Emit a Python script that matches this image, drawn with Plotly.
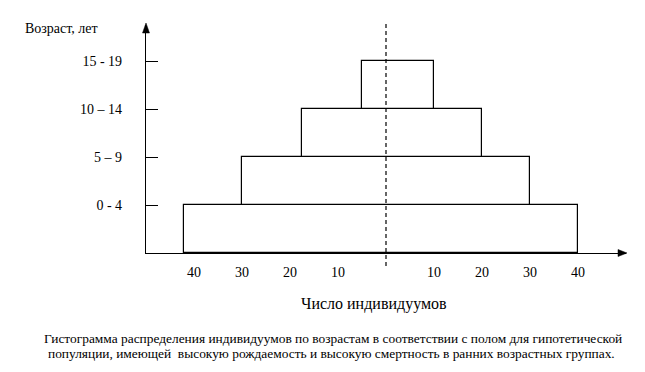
import plotly.graph_objects as go

# Data
age_groups = ["0 - 4", "5 – 9", "10 – 14", "15 - 19"]
left_counts = [42, 30, 17.5, 5]     # left half of the pyramid
right_counts = [40, 30, 20, 10]     # right half of the pyramid
x_tick_values = [-40, -30, -20, -10, 10, 20, 30, 40]
x_tick_labels = ["40", "30", "20", "10", "10", "20", "30", "40"]
caption_lines = [
    "Гистограмма распределения индивидуумов по возрастам в соответствии с полом для гипотетической",
    "популяции, имеющей  высокую рождаемость и высокую смертность в ранних возрастных группах.",
]

FONT = "Liberation Serif"
OFF = 8  # page body margin
W, H = 645 - OFF, 372 - OFF
L, R, T, B = 146 - OFF, 19, 25 - OFF, 119
plot_w = W - L - R
plot_h = H - T - B


def px_x(px):
    return (px - OFF - L) / plot_w


def px_y(py):
    return (H - B - (py - OFF)) / plot_h


y_mid = [i + 0.5 for i in range(len(age_groups))]
bases = [-v for v in left_counts]
lengths = [a + b for a, b in zip(left_counts, right_counts)]

fig = go.Figure()
fig.add_trace(go.Bar(
    orientation="h",
    y=y_mid,
    x=lengths,
    base=bases,
    width=1,
    marker=dict(color="white", line=dict(color="black", width=1.2)),
    showlegend=False,
    hoverinfo="skip",
))

fig.update_layout(
    width=W, height=H,
    margin=dict(l=L, r=R, t=T, b=B, pad=0),
    paper_bgcolor="white", plot_bgcolor="white",
    font=dict(family=FONT, size=14, color="black"),
    bargap=0,
    xaxis=dict(
        range=[-50, 50],
        tickvals=x_tick_values, ticktext=x_tick_labels,
        ticks="", showgrid=False, zeroline=False,
        showline=True, linecolor="black", linewidth=1.3,
        ticklabelstandoff=6,
        tickfont=dict(family=FONT, size=14, color="black"),
    ),
    yaxis=dict(
        range=[0, 4.75],
        tickvals=[1, 2, 3, 4], ticktext=age_groups,
        ticks="inside", ticklen=12, tickcolor="black", tickwidth=1.2,
        showgrid=False, zeroline=False,
        showline=True, linecolor="black", linewidth=1.3,
        ticklabelstandoff=20,
        tickfont=dict(family=FONT, size=14, color="black"),
    ),
)

# dashed center line
fig.add_shape(type="line", xref="x", yref="paper", x0=0, x1=0,
              y0=px_y(266), y1=px_y(24),
              line=dict(color="black", width=1.2, dash="4px,3px"))

# arrowheads
fig.add_shape(type="path", xref="paper", yref="paper",
              xsizemode="pixel", ysizemode="pixel",
              xanchor=0, yanchor=1,
              path="M -3.5 -8 L 3.5 -8 L 0 2 Z",
              fillcolor="black", line=dict(color="black", width=0.5))
fig.add_shape(type="path", xref="paper", yref="paper",
              xsizemode="pixel", ysizemode="pixel",
              xanchor=1, yanchor=0,
              path="M -8 -3.5 L -8 3.5 L 1 0 Z",
              fillcolor="black", line=dict(color="black", width=0.5))

# axis titles
fig.add_annotation(text="Возраст, лет", xref="paper", yref="paper",
                   x=px_x(23), y=px_y(28), xanchor="left", yanchor="middle",
                   showarrow=False, font=dict(family=FONT, size=14, color="black"))
fig.add_annotation(text="Число индивидуумов", xref="paper", yref="paper",
                   x=px_x(374), y=px_y(304), xanchor="center", yanchor="middle",
                   showarrow=False, font=dict(family=FONT, size=16, color="black"))

# caption
for text, cx, cy in zip(caption_lines, [333, 331.5], [338.3, 353.3]):
    fig.add_annotation(text=text, xref="paper", yref="paper",
                       x=px_x(cx), y=px_y(cy), xanchor="center", yanchor="middle",
                       showarrow=False, font=dict(family=FONT, size=13.4, color="black"))

fig.write_html("out.html")
